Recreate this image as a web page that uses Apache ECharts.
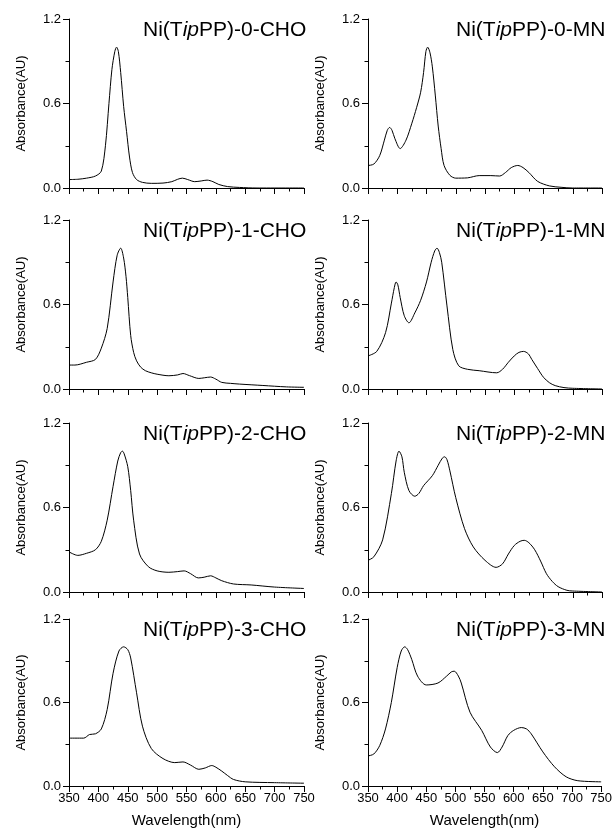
<!DOCTYPE html>
<html>
<head>
<meta charset="utf-8">
<script src="https://cdn.jsdelivr.net/npm/echarts@6/dist/echarts.min.js"></script>
<style>
html,body{margin:0;padding:0;background:#fff;}
#chart{width:615px;height:829px;}
</style>
</head>
<body>
<div id="chart"></div>
<script>
// ---- data (wavelength nm / absorbance AU) ----
const wlCho0 = [350,365,380,395,405,412,418,423,428,431,434,438,443,448,453,458,465,475,490,510,525,535,543,552,564,575,585,595,605,620,640,670,750];
const abCho0 = [0.06,0.062,0.07,0.085,0.12,0.3,0.6,0.84,0.97,1.0,0.97,0.82,0.58,0.4,0.22,0.11,0.06,0.04,0.033,0.035,0.045,0.062,0.07,0.06,0.045,0.05,0.056,0.045,0.025,0.01,0.004,0.0,0.0];

const wlMn0 = [350,360,370,378,383,387,391,396,405,415,425,433,440,445,449,452,456,460,465,470,475,480,490,500,520,540,560,575,585,595,606,615,625,640,660,680,700,750];
const abMn0 = [0.16,0.17,0.23,0.34,0.41,0.43,0.41,0.35,0.28,0.34,0.46,0.57,0.68,0.82,0.97,1.0,0.96,0.86,0.66,0.44,0.28,0.16,0.09,0.07,0.072,0.088,0.088,0.085,0.11,0.145,0.16,0.145,0.11,0.047,0.015,0.005,0.0,0.0];

const wlCho1 = [350,360,380,395,405,415,425,432,438,443,447,450,455,460,465,472,480,490,500,520,535,544,555,571,581,591,600,610,625,640,680,720,750];
const abCho1 = [0.17,0.17,0.19,0.21,0.29,0.43,0.76,0.95,1.0,0.93,0.8,0.65,0.38,0.26,0.2,0.155,0.13,0.115,0.105,0.094,0.1,0.11,0.095,0.075,0.08,0.085,0.07,0.047,0.04,0.035,0.025,0.015,0.012];

const wlMn1 = [350,365,380,390,395,398,401,405,412,420,430,440,450,458,464,468,472,476,485,495,505,520,540,570,580,590,600,608,616,624,630,640,650,660,670,685,700,750];
const abMn1 = [0.235,0.267,0.4,0.61,0.72,0.76,0.74,0.65,0.52,0.47,0.54,0.63,0.76,0.9,0.98,1.0,0.97,0.9,0.59,0.28,0.165,0.14,0.13,0.115,0.14,0.19,0.235,0.26,0.267,0.25,0.21,0.145,0.083,0.045,0.024,0.01,0.005,0.0];

const wlCho2 = [350,365,380,395,405,415,425,433,438,441,444,450,455,460,470,485,500,520,535,546,557,570,580,591,600,610,630,660,700,750];
const abCho2 = [0.285,0.26,0.275,0.3,0.36,0.51,0.75,0.93,0.99,1.0,0.98,0.89,0.72,0.51,0.27,0.18,0.15,0.14,0.145,0.15,0.13,0.1,0.105,0.115,0.1,0.08,0.057,0.05,0.035,0.025];

const wlMn2 = [350,360,375,390,398,403,408,412,420,430,437,445,460,470,477,481,485,490,500,515,530,550,569,580,590,600,610,617,625,635,645,655,665,675,690,700,750];
const abMn2 = [0.225,0.25,0.37,0.7,0.93,1.0,0.96,0.85,0.72,0.68,0.7,0.755,0.826,0.9,0.95,0.96,0.94,0.86,0.67,0.45,0.32,0.225,0.175,0.2,0.27,0.33,0.36,0.367,0.35,0.3,0.22,0.13,0.075,0.038,0.012,0.007,0.0];

const wlCho3 = [350,375,385,395,405,415,425,435,443,450,455,465,475,490,510,530,544,557,571,582,593,600,610,620,630,650,700,750];
const abCho3 = [0.344,0.344,0.37,0.375,0.41,0.55,0.81,0.97,1.0,0.98,0.92,0.67,0.43,0.27,0.197,0.168,0.173,0.15,0.12,0.13,0.147,0.135,0.107,0.075,0.047,0.03,0.024,0.02];

const wlMn3 = [350,360,370,380,390,400,407,413,418,425,435,450,470,485,493,498,505,510,525,545,560,572,580,590,600,613,622,630,650,670,690,710,750];
const abMn3 = [0.216,0.23,0.29,0.41,0.6,0.85,0.97,1.0,0.98,0.91,0.79,0.726,0.74,0.79,0.82,0.825,0.79,0.74,0.53,0.4,0.28,0.24,0.28,0.363,0.4,0.42,0.41,0.375,0.245,0.138,0.066,0.038,0.03];

const panelNames = ['0-CHO','0-MN','1-CHO','1-MN','2-CHO','2-MN','3-CHO','3-MN'];
const xTicks = [350,400,450,500,550,600,650,700,750];
const yTicks = [0.0,0.6,1.2];

// ---- build ----
const panels = [
  [wlCho0,abCho0],[wlMn0,abMn0],
  [wlCho1,abCho1],[wlMn1,abMn1],
  [wlCho2,abCho2],[wlMn2,abMn2],
  [wlCho3,abCho3],[wlMn3,abMn3]
];
const FONT = 'Liberation Sans';
const rowTops = [19, 220, 423, 619];
const colLeft = [69, 368];
const colWidth = [235, 234];
const titleLeft = [143, 456];
const plotH = 169;

const grids = [], xAxes = [], yAxes = [], series = [], titles = [];
panels.forEach((p, i) => {
  const r = Math.floor(i / 2), c = i % 2;
  const bottomRow = r === 3;
  grids.push({left: colLeft[c], top: rowTops[r], width: colWidth[c], height: plotH, containLabel: false});
  xAxes.push({
    type: 'value', gridIndex: i, min: xTicks[0], max: xTicks[xTicks.length-1], interval: 50,
    axisLine: {show: true, onZero: false, lineStyle: {color: '#000', width: 1}},
    axisTick: {show: true, inside: false, length: 6, lineStyle: {color: '#000'}},
    minorTick: {show: true, splitNumber: 2, length: 3.5, lineStyle: {color: '#000'}},
    splitLine: {show: false},
    axisLabel: {show: bottomRow, margin: 6, color: '#000', fontSize: 13, fontFamily: FONT},
    name: bottomRow ? 'Wavelength(nm)' : '',
    nameLocation: 'middle', nameGap: 27,
    nameTextStyle: {color: '#000', fontSize: 15, fontFamily: FONT}
  });
  yAxes.push({
    type: 'value', gridIndex: i, min: 0, max: 1.2, interval: 0.6,
    axisLine: {show: true, onZero: false, lineStyle: {color: '#000', width: 1}},
    axisTick: {show: true, inside: false, length: 6, lineStyle: {color: '#000'}},
    minorTick: {show: true, splitNumber: 2, length: 3.5, lineStyle: {color: '#000'}},
    splitLine: {show: false},
    axisLabel: {margin: 8, color: '#000', fontSize: 13, fontFamily: FONT,
      formatter: v => v.toFixed(1)},
    name: 'Absorbance(AU)', nameLocation: 'middle', nameGap: 41,
    nameTextStyle: {color: '#000', fontSize: 13, fontFamily: FONT}
  });
  series.push({
    type: 'line', xAxisIndex: i, yAxisIndex: i,
    data: p[0].map((w, k) => [w, p[1][k]]),
    smooth: 0.3, symbol: 'none',
    lineStyle: {color: '#000', width: 1}, silent: true, animation: false
  });
  titles.push({
    text: '{r|Ni(T}{i|ip}{r|PP)-' + panelNames[i] + '}',
    left: titleLeft[c], top: rowTops[r] + 1,
    padding: 0,
    textStyle: {
      fontWeight: 'normal',
      rich: {
        r: {fontSize: 21, fontFamily: FONT, fontWeight: 'normal', color: '#000'},
        i: {fontSize: 21, fontFamily: FONT, fontWeight: 'normal', fontStyle: 'italic', color: '#000'}
      }
    }
  });
});

const chart = echarts.init(document.getElementById('chart'), null, {renderer: 'canvas'});
chart.setOption({
  animation: false,
  backgroundColor: '#fff',
  title: titles,
  grid: grids,
  xAxis: xAxes,
  yAxis: yAxes,
  series: series
});
</script>
</body>
</html>
